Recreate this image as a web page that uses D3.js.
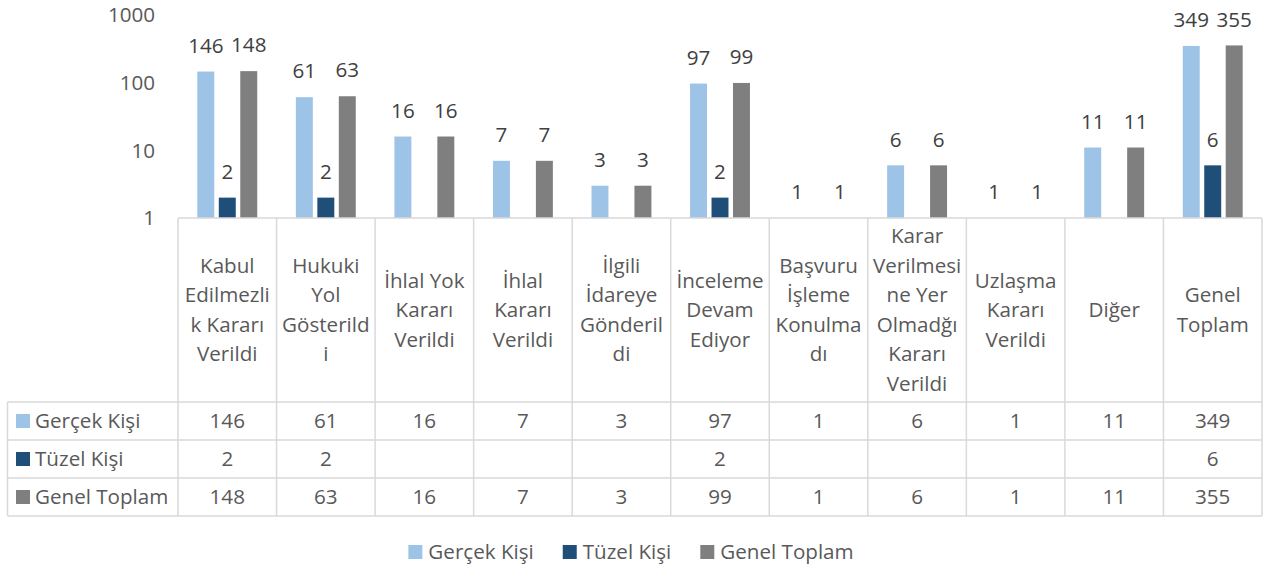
<!DOCTYPE html>
<html>
<head>
<meta charset="utf-8">
<script src="https://cdn.jsdelivr.net/npm/d3@7"></script>
<style>
    body { margin: 0; background: #fff; }
    svg { font-family: "Open Sans", sans-serif; }
</style>
</head>
<body>
<svg id="chart" width="1265" height="567"></svg>
<script>
// Data
const categories = [
    'Kabul Edilmezlik Kararı Verildi', 'Hukuki Yol Gösterildi', 'İhlal Yok Kararı Verildi',
    'İhlal Kararı Verildi', 'İlgili İdareye Gönderildi', 'İnceleme Devam Ediyor',
    'Başvuru İşleme Konulmadı', 'Karar Verilmesine Yer Olmadğı Kararı Verildi',
    'Uzlaşma Kararı Verildi', 'Diğer', 'Genel Toplam'
];
// how the category labels wrap inside the table header
const categoryLines = [
    ['Kabul', 'Edilmezli', 'k Kararı', 'Verildi'],
    ['Hukuki', 'Yol', 'Gösterild', 'i'],
    ['İhlal Yok', 'Kararı', 'Verildi'],
    ['İhlal', 'Kararı', 'Verildi'],
    ['İlgili', 'İdareye', 'Gönderil', 'di'],
    ['İnceleme', 'Devam', 'Ediyor'],
    ['Başvuru', 'İşleme', 'Konulma', 'dı'],
    ['Karar', 'Verilmesi', 'ne Yer', 'Olmadğı', 'Kararı', 'Verildi'],
    ['Uzlaşma', 'Kararı', 'Verildi'],
    ['Diğer'],
    ['Genel', 'Toplam']
];
const seriesNames = ['Gerçek Kişi', 'Tüzel Kişi', 'Genel Toplam'];
const seriesColors = ['#9DC3E6', '#1F4E79', '#7F7F7F'];
const gercekKisi = [146, 61, 16, 7, 3, 97, 1, 6, 1, 11, 349];
const tuzelKisi = [2, 2, null, null, null, 2, null, null, null, null, 6];
const genelToplam = [148, 63, 16, 7, 3, 99, 1, 6, 1, 11, 355];
const seriesValues = [gercekKisi, tuzelKisi, genelToplam];
const yTicks = [1, 10, 100, 1000];

// Layout
const plotLeft = 178, plotRight = 1262, plotTop = 15, axisY = 218;
const headerBottom = 402, rowH = 38;
const tableLeft = 7.5;
const gridColor = '#D9D9D9';
const textColor = '#595959';
const fontSize = 20.6;

const svg = d3.select('#chart');

const x = d3.scaleBand().domain(d3.range(categories.length)).range([plotLeft, plotRight]);
const xSub = d3.scaleBand().domain(d3.range(seriesNames.length))
    .range([0, x.bandwidth()]).paddingInner(0.21).paddingOuter(0.9);
const y = d3.scaleLog().domain([1, 1000]).range([axisY, plotTop]);

// Y axis labels (no axis line)
svg.append('g').selectAll('text')
    .data(yTicks)
    .enter()
    .append('text')
    .attr('x', 155)
    .attr('y', d => y(d))
    .attr('dy', '0.35em')
    .attr('text-anchor', 'end')
    .attr('font-size', fontSize)
    .attr('fill', textColor)
    .text(d => d);

// Bars and labels
const points = [];
seriesValues.forEach((vals, s) => {
    vals.forEach((v, i) => {
        if (v != null) points.push({ s, i, v });
    });
});

svg.append('g').selectAll('rect')
    .data(points)
    .enter()
    .append('rect')
    .attr('x', d => x(d.i) + xSub(d.s))
    .attr('y', d => y(d.v))
    .attr('width', xSub.bandwidth())
    .attr('height', d => axisY - y(d.v))
    .attr('fill', d => seriesColors[d.s]);

svg.append('g').selectAll('text')
    .data(points)
    .enter()
    .append('text')
    .attr('x', d => x(d.i) + xSub(d.s) + xSub.bandwidth() / 2)
    .attr('y', d => y(d.v) - 26)
    .attr('dy', '0.35em')
    .attr('text-anchor', 'middle')
    .attr('font-size', fontSize)
    .attr('fill', '#404040')
    .text(d => d.v);

// Data table
const table = svg.append('g')
    .attr('stroke', gridColor)
    .attr('stroke-width', 1.5)
    .attr('fill', 'none');

table.append('line')
    .attr('x1', plotLeft).attr('x2', plotRight)
    .attr('y1', axisY).attr('y2', axisY);

const rowLines = d3.range(seriesNames.length + 1).map(r => headerBottom + r * rowH);
table.selectAll('.hline')
    .data(rowLines)
    .enter()
    .append('line')
    .attr('x1', tableLeft).attr('x2', plotRight)
    .attr('y1', d => d).attr('y2', d => d);

const colEdges = d3.range(categories.length + 1).map(i => plotLeft + i * x.bandwidth());
table.selectAll('.vline')
    .data(colEdges)
    .enter()
    .append('line')
    .attr('x1', d => d).attr('x2', d => d)
    .attr('y1', axisY).attr('y2', rowLines[rowLines.length - 1]);

table.append('line')
    .attr('x1', tableLeft).attr('x2', tableLeft)
    .attr('y1', headerBottom).attr('y2', rowLines[rowLines.length - 1]);

// Category header text
const lineH = 29.5;
const headerMid = (axisY + headerBottom) / 2;
const header = svg.append('g')
    .attr('font-size', fontSize)
    .attr('fill', textColor)
    .attr('text-anchor', 'middle');

categoryLines.forEach((lines, i) => {
    const startY = headerMid - (lines.length - 1) * lineH / 2;
    header.append('text')
        .selectAll('tspan')
        .data(lines)
        .enter()
        .append('tspan')
        .attr('x', x(i) + x.bandwidth() / 2)
        .attr('y', (d, k) => startY + k * lineH)
        .attr('dy', '0.35em')
        .text(d => d);
});

// Table rows
seriesNames.forEach((name, s) => {
    const cy = headerBottom + s * rowH + rowH / 2;
    svg.append('rect')
        .attr('x', 16).attr('y', cy - 7)
        .attr('width', 14).attr('height', 14)
        .attr('fill', seriesColors[s]);
    svg.append('text')
        .attr('x', 35).attr('y', cy)
        .attr('dy', '0.35em')
        .attr('font-size', fontSize)
        .attr('fill', textColor)
        .text(name);
    svg.append('g').selectAll('text')
        .data(seriesValues[s])
        .enter()
        .append('text')
        .attr('x', (d, i) => x(i) + x.bandwidth() / 2)
        .attr('y', cy)
        .attr('dy', '0.35em')
        .attr('text-anchor', 'middle')
        .attr('font-size', fontSize)
        .attr('fill', textColor)
        .text(d => d == null ? '' : d);
});

// Legend
const legend = svg.append('g');
let lx = 0;
seriesNames.forEach((name, s) => {
    const item = legend.append('g').attr('transform', `translate(${lx},0)`);
    item.append('rect')
        .attr('x', 0).attr('y', -7)
        .attr('width', 14).attr('height', 14)
        .attr('fill', seriesColors[s]);
    const t = item.append('text')
        .attr('x', 20).attr('y', 0)
        .attr('dy', '0.35em')
        .attr('font-size', fontSize)
        .attr('fill', textColor)
        .text(name);
    lx += 20 + t.node().getComputedTextLength() + 29;
});
const legendW = lx - 29;
legend.attr('transform', `translate(${631 - legendW / 2},552)`);
</script>
</body>
</html>
